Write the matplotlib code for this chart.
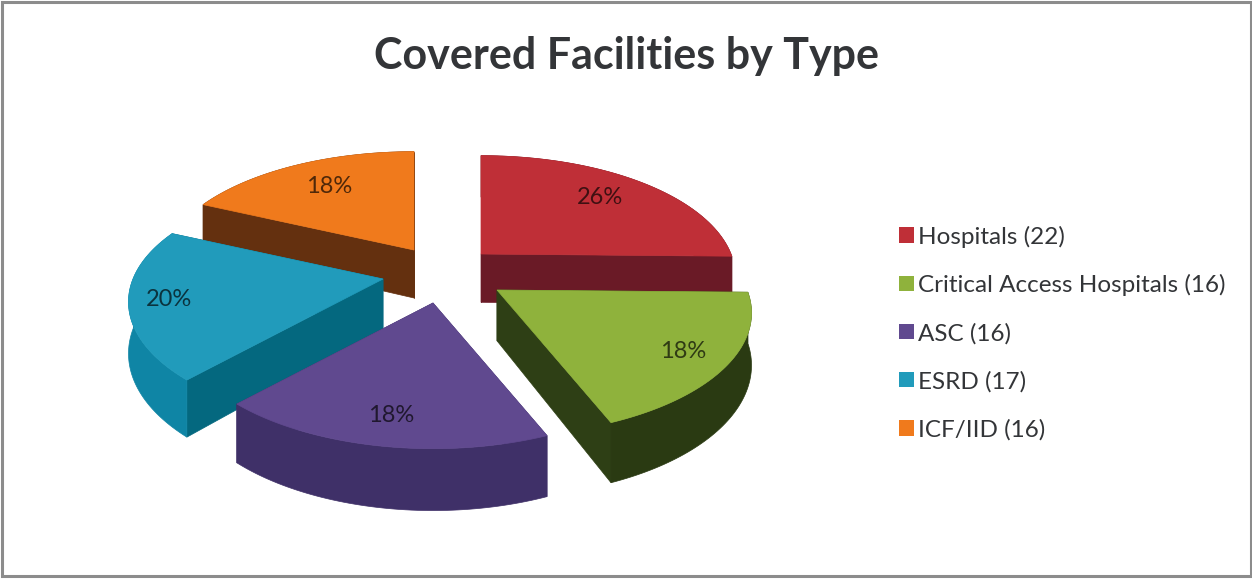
import numpy as np
import matplotlib
matplotlib.use('Agg')
import matplotlib.pyplot as plt
from matplotlib.patches import Polygon, Patch, Rectangle
from matplotlib.colors import to_rgb

title = "Covered Facilities by Type"
names = ["Hospitals", "Critical Access Hospitals", "ASC", "ESRD", "ICF/IID"]
counts = [22, 16, 16, 17, 16]
pct_labels = ["26%", "18%", "18%", "20%", "18%"]

top_colors = ["#bf2f37", "#8fb23c", "#60498f", "#219bbb", "#f07a1c"]
radial_colors = ["#6a1a26", "#2e3f15", "#3f3068", "#04687f", "#64300f"]
rim_colors = ["#6a1a26", "#2a3a12", "#3f3068", "#0f85a5", "#64300f"]

# where each exploded slice's tip sits on the page (pixels)
tips = [(481, 254), (497, 290), (433, 303), (383, 279), (414, 250)]
label_r = [0.77, 0.81, 0.79, 0.84, 0.74]
draw_order = [4, 0, 3, 1, 2]  # back to front

RX, RY, PERSP = 250.0, 122.0, 0.194
FONT = ['Lato', 'DejaVu Sans']
TEXT = "#333538"


def project(tip, theta, r=1.0):
    # theta is degrees clockwise from north, pie plane seen in perspective
    t = np.radians(theta)
    s = 1 - PERSP * np.cos(t)
    return tip[0] + r * RX * s * np.sin(t), tip[1] - r * RY * s * np.cos(t)


def depth(y):
    return 48 + 0.07 * (y - 250)


def main():
    fig = plt.figure(figsize=(12.52, 5.79), dpi=100)
    ax = fig.add_axes([0, 0, 1, 1])
    ax.set_xlim(0, 1252)
    ax.set_ylim(579, 0)
    ax.axis('off')

    ax.add_patch(Rectangle((1.5, 1.5), 1249, 574, fc='white', ec='#8c8c8c', lw=2.2))
    ax.text(626, 56, title, ha='center', va='center', fontsize=31,
            fontweight='bold', color=TEXT, family=FONT)

    edges = np.cumsum([0] + counts) / sum(counts) * 360

    for i in draw_order:
        tip = tips[i]
        th = np.linspace(edges[i], edges[i + 1], 60)
        xs, ys = project(tip, th)
        dz = depth(ys)
        tip_dz = depth(tip[1])

        # radial walls, the far ones end up hidden under the top face
        for j in (0, -1):
            quad = [tip, (xs[j], ys[j]), (xs[j], ys[j] + dz[j]), (tip[0], tip[1] + tip_dz)]
            ax.add_patch(Polygon(quad, closed=True, fc=radial_colors[i], ec=radial_colors[i], lw=0.5))

        # outer rim
        rim = np.r_[np.c_[xs, ys], np.c_[xs, ys + dz][::-1]]
        ax.add_patch(Polygon(rim, closed=True, fc=rim_colors[i], ec=rim_colors[i], lw=0.5))

        # top face
        top = np.r_[[tip], np.c_[xs, ys]]
        ax.add_patch(Polygon(top, closed=True, fc=top_colors[i], ec=top_colors[i], lw=0.5))

        mid = (edges[i] + edges[i + 1]) / 2
        lx, ly = project(tip, mid, label_r[i])
        dark = tuple(c * 0.33 for c in to_rgb(top_colors[i]))
        ax.text(lx, ly, pct_labels[i], ha='center', va='center', fontsize=17,
                color=dark, family=FONT)

    handles = [Patch(fc=c, ec='none') for c in top_colors]
    labels = [n + " (" + str(c) + ")" for n, c in zip(names, counts)]
    ax.legend(handles, labels, loc='center left', bbox_to_anchor=(899 / 1252, 1 - 333 / 579),
              frameon=False, prop={'family': FONT, 'size': 17.5}, labelcolor=TEXT,
              handlelength=0.6, handleheight=0.6, handletextpad=0.2,
              labelspacing=1.09, borderpad=0, borderaxespad=0)

    fig.savefig('out.png', dpi=100)


if __name__ == "__main__":
    main()
